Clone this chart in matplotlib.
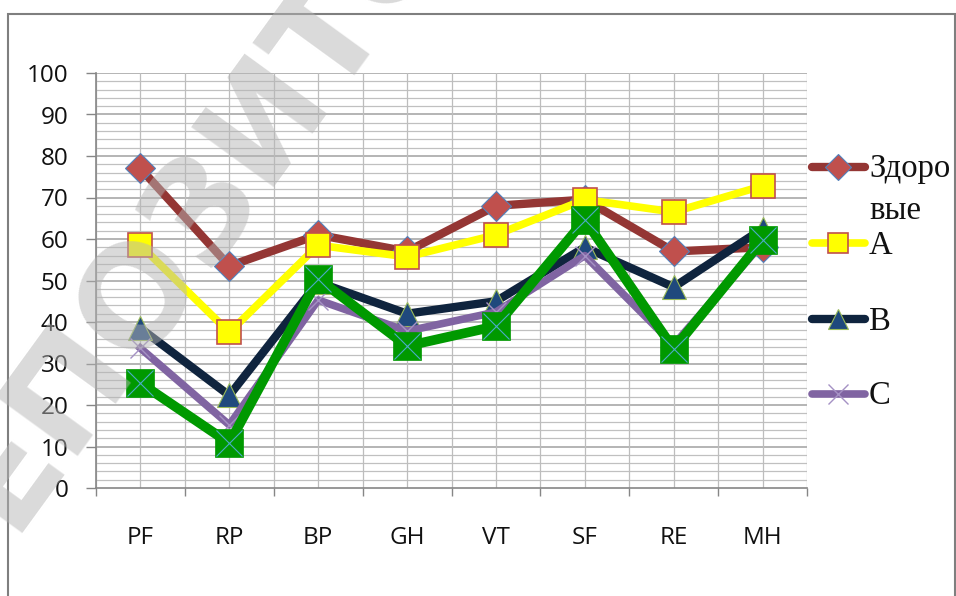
import numpy as np
import matplotlib
matplotlib.use("Agg")
import matplotlib.pyplot as plt
from matplotlib.lines import Line2D
from matplotlib.patches import Rectangle

categories = ["PF", "RP", "BP", "GH", "VT", "SF", "RE", "MH"]
healthy = [77, 53.5, 61, 57, 68, 69.5, 57, 58]
group_a = [58.5, 37.5, 58.5, 55.7, 61, 69.5, 66.5, 72.8]
group_b = [38.5, 22.3, 49.6, 42, 45, 58, 48.4, 62.5]
group_c = [33.7, 15.2, 45.3, 37.8, 42.4, 56, 34.5, 59]
group_d = [25.3, 10.8, 50.4, 34.2, 39, 64.6, 33.5, 59.8]
legend_labels = ["Здоро\nвые", "A", "B", "C"]

W, H = 956, 596
DPI = 100


def px(x, y):
    return x / W, 1 - y / H


fig = plt.figure(figsize=(W / DPI, H / DPI), dpi=DPI)
ax = fig.add_axes([96 / W, 1 - 488 / H, (807 - 96) / W, (488 - 73) / H])

x = np.arange(len(categories))

# grid
for v in np.arange(2, 100.1, 2):
    major = abs(v % 10) < 1e-9
    ax.axhline(v, color="#a0a0a0" if major else "#c0c0c0",
               lw=1.1 if major else 0.9, zorder=0)
for v in np.arange(-0.5, 7.6, 0.5):
    ax.axvline(v, color="#bdbdbd", lw=0.9, zorder=0)

ax.plot(x, healthy, color="#943634", lw=6, marker="D", ms=15,
        mfc="#C0504D", mec="#4F81BD", mew=0.8, zorder=3)
ax.plot(x, group_a, color="#FFFF00", lw=5.5, marker="s", ms=17,
        mfc="#FFFF00", mec="#C0504D", mew=1.2, zorder=3)
ax.plot(x, group_b, color="#0F243E", lw=6, marker="^", ms=17,
        mfc="#1F497D", mec="#9BBB59", mew=0.8, zorder=3)
ax.plot(x, group_c, color="#8064A2", lw=5.5, marker="x", ms=15,
        mec="#A591C4", mew=1.0, zorder=3)
ax.plot(x, group_d, color="#009900", lw=7, marker="s", ms=20,
        mfc="#009900", mec="#009900", mew=0.5, zorder=3)
ax.plot(x, group_d, ls="none", marker="x", ms=19, mec="#4BACC6",
        mew=0.8, zorder=3)

ax.set_xlim(-0.5, 7.5)
ax.set_ylim(0, 100)
ax.set_yticks(np.arange(0, 101, 10))
ax.set_xticks(x)
ax.set_xticklabels(categories)
ax.set_xticks(np.arange(-0.5, 7.6, 1), minor=True)
ax.tick_params(axis="x", which="major", length=0, pad=27)
ax.tick_params(axis="x", which="minor", length=6, direction="out",
               color="#868686", width=1)
ax.tick_params(axis="y", length=7, color="#868686", width=1, pad=13)
for lab in ax.get_xticklabels() + ax.get_yticklabels():
    lab.set_fontfamily("Open Sans")
    lab.set_fontsize(17.5)
    lab.set_color("#111111")

for side in ["top", "right"]:
    ax.spines[side].set_visible(False)
for side in ["left", "bottom"]:
    ax.spines[side].set_color("#868686")
    ax.spines[side].set_linewidth(1.2)

# legend drawn by hand
styles = [
    dict(color="#943634", lw=6, marker="D", ms=13, mfc="#C0504D", mec="#4F81BD", mew=0.8),
    dict(color="#FFFF00", lw=5.5, marker="s", ms=15, mfc="#FFFF00", mec="#C0504D", mew=1.2),
    dict(color="#0F243E", lw=6, marker="^", ms=15, mfc="#1F497D", mec="#9BBB59", mew=0.8),
    dict(color="#8064A2", lw=5.5, marker="x", ms=14, mec="#A591C4", mew=1.0),
]
ys = [167, 243, 319, 394]
for lab, st, yy in zip(legend_labels, styles, ys):
    x0, y0 = px(812, yy)
    x1, _ = px(865, yy)
    xm, _ = px(838, yy)
    fig.add_artist(Line2D([x0, x1], [y0, y0], color=st["color"], lw=st["lw"],
                          solid_capstyle="round", transform=fig.transFigure))
    m = {k: v for k, v in st.items() if k not in ("color", "lw")}
    fig.add_artist(Line2D([xm], [y0], ls="none", transform=fig.transFigure, **m))
    tx, ty = px(869, yy - 13)
    fig.text(tx, ty, lab, fontfamily="Liberation Serif", fontsize=23.5,
             va="top", ha="left", linespacing=1.45, color="#111111")

# chart border
bx, by = px(8, 14)
fig.add_artist(Rectangle((bx, -0.05), px(955, 0)[0] - bx, by + 0.05,
                         transform=fig.transFigure, fill=False,
                         edgecolor="#7f7f7f", lw=1.5))

# watermark
wx, wy = px(270, 110)
fig.text(wx, wy, "РЕПОЗИТОРИЙ", rotation=54, rotation_mode="anchor",
         ha="center", va="center", fontsize=100, fontweight="bold",
         family="DejaVu Sans", color="#b5b5b5", alpha=0.5, zorder=20)

fig.savefig("out.png", dpi=DPI)
